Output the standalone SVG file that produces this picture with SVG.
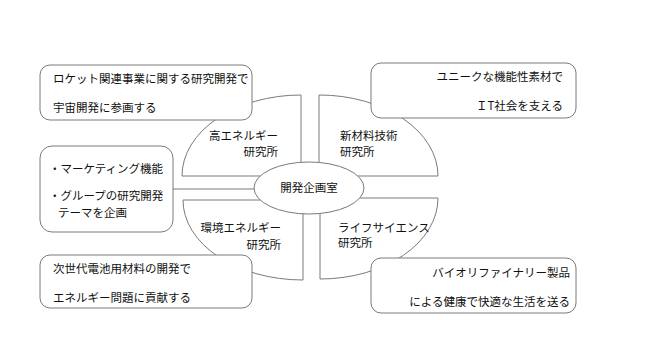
<svg xmlns="http://www.w3.org/2000/svg" width="648" height="364" viewBox="0 0 648 364">
<style>
.s{fill:#fff;stroke:#7a7a7a;stroke-width:1}
.t{font-family:"Noto Sans CJK JP","Noto Sans CJK SC",sans-serif;font-size:11.5px;fill:#111}
.e{text-anchor:end}
.m{text-anchor:middle}
</style>
<rect width="648" height="364" fill="#fff"/>
<g id="lab-high-energy">
<path class="s" d="M301,176 L182,176 A119,81 0 0,1 301,95 Z"/>
<text class="t e" x="278" y="140">高エネルギー</text>
<text class="t e" x="278" y="156">研究所</text>
</g>
<g id="lab-new-materials">
<path class="s" d="M319,176 L319,95 A119,81 0 0,1 438,176 Z"/>
<text class="t" x="340" y="140">新材料技術</text>
<text class="t" x="340" y="156">研究所</text>
</g>
<g id="lab-env-energy">
<path class="s" d="M303,200 L303,280 A120,80 0 0,1 183,200 Z"/>
<text class="t e" x="281" y="232">環境エネルギー</text>
<text class="t e" x="281" y="249">研究所</text>
</g>
<g id="lab-life-science">
<path class="s" d="M320,198 L438,198 A118,81 0 0,1 320,279 Z"/>
<text class="t" x="338" y="232">ライフサイエンス</text>
<text class="t" x="338" y="247">研究所</text>
</g>
<g id="connectors">
<line x1="173" y1="189" x2="254" y2="189" stroke="#7a7a7a" stroke-width="1"/>
</g>
<g id="planning-office">
<ellipse class="s" cx="309" cy="188" rx="55" ry="26"/>
<text class="t m" x="309" y="192">開発企画室</text>
</g>
<g id="box-rocket">
<rect class="s" x="40" y="65" width="212" height="55" rx="10"/>
<text class="t" x="53" y="83">ロケット関連事業に関する研究開発で</text>
<text class="t" x="53" y="112">宇宙開発に参画する</text>
</g>
<g id="box-marketing">
<rect class="s" x="40" y="146" width="133" height="86" rx="12"/>
<text class="t" x="49" y="173">・マーケティング機能</text>
<text class="t" x="49" y="200">・グループの研究開発</text>
<text class="t" x="58" y="217">テーマを企画</text>
</g>
<g id="box-battery">
<rect class="s" x="40" y="255" width="212" height="53" rx="10"/>
<text class="t" x="53" y="273">次世代電池用材料の開発で</text>
<text class="t" x="53" y="302">エネルギー問題に貢献する</text>
</g>
<g id="box-materials">
<rect class="s" x="371" y="63" width="205" height="55" rx="10"/>
<text class="t e" x="563" y="81">ユニークな機能性素材で</text>
<text class="t e" x="563" y="110">ＩT社会を支える</text>
</g>
<g id="box-bio">
<rect class="s" x="371" y="258" width="205" height="55" rx="10"/>
<text class="t e" x="570" y="277">バイオリファイナリー製品</text>
<text class="t e" x="570" y="306">による健康で快適な生活を送る</text>
</g>
</svg>
